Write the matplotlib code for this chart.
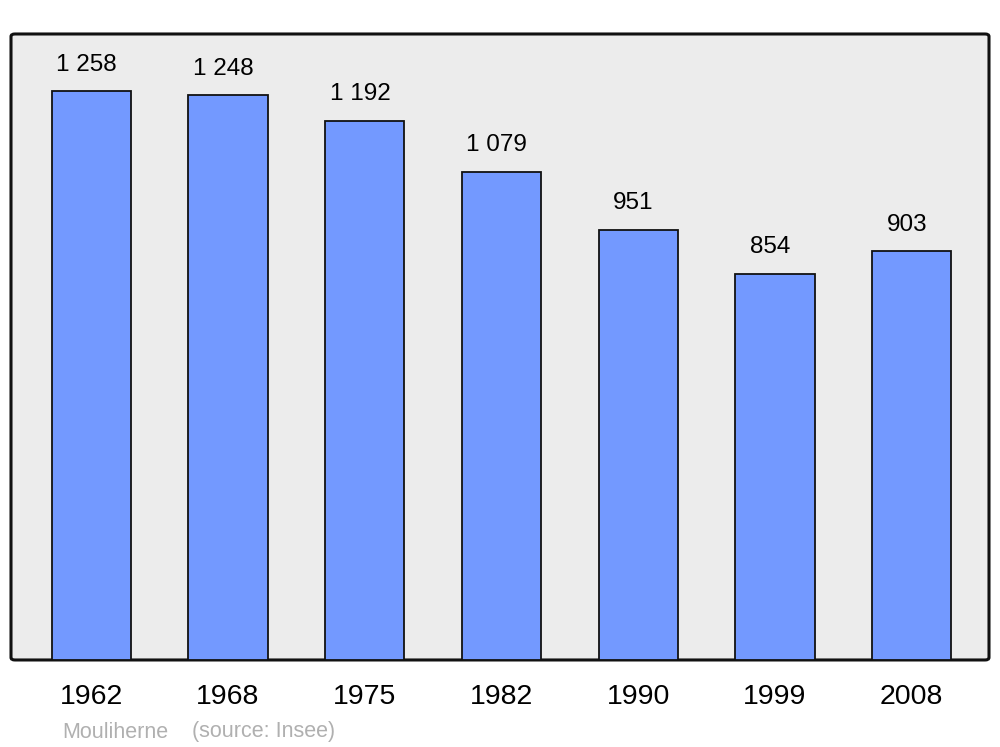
import matplotlib
matplotlib.use("Agg")
import matplotlib.pyplot as plt
from matplotlib.patches import FancyBboxPatch

years = ["1962", "1968", "1975", "1982", "1990", "1999", "2008"]
population = [1258, 1248, 1192, 1079, 951, 854, 903]
value_labels = ["1 258", "1 248", "1 192", "1 079", "951", "854", "903"]
town = "Mouliherne"
source = "(source: Insee)"

plt.rcParams["font.family"] = ["Liberation Sans", "DejaVu Sans"]

fig = plt.figure(figsize=(10, 7.47), dpi=100)
ax = fig.add_axes([0.011, 0.1165, 0.978, 0.838])
ax.set_facecolor("none")

# rounded frame with grey fill
frame = FancyBboxPatch((0, 0), 1, 1, boxstyle="round,pad=0,rounding_size=0.004",
                       transform=ax.transAxes, facecolor="#ececec",
                       edgecolor="#111111", linewidth=2.2, zorder=0, clip_on=False)
ax.add_patch(frame)

x = range(len(years))
bars = ax.bar(x, population, width=0.578, color="#7399ff",
              edgecolor="#111111", linewidth=1.3, zorder=2)

for xi, val, lab in zip(x, population, value_labels):
    ax.annotate(lab, (xi, val), xytext=(-3.5, 19), textcoords="offset points",
                ha="center", va="center", fontsize=17.5, color="black")

ax.set_xlim(-0.587, 6.565)
ax.set_ylim(0, max(population) * 1.1)
ax.set_xticks(list(x))
ax.set_xticklabels(years, fontsize=20.5)
ax.tick_params(axis="x", length=0, pad=17)
ax.set_yticks([])
for s in ax.spines.values():
    s.set_visible(False)

fig.text(0.062, 1 - 732 / 747, town, ha="left", va="center",
         fontsize=15.5, color="#b0b0b0")
fig.text(0.192, 1 - 732 / 747, source, ha="left", va="center",
         fontsize=15.5, color="#b0b0b0")

fig.savefig("out.png", dpi=100, facecolor="white")
